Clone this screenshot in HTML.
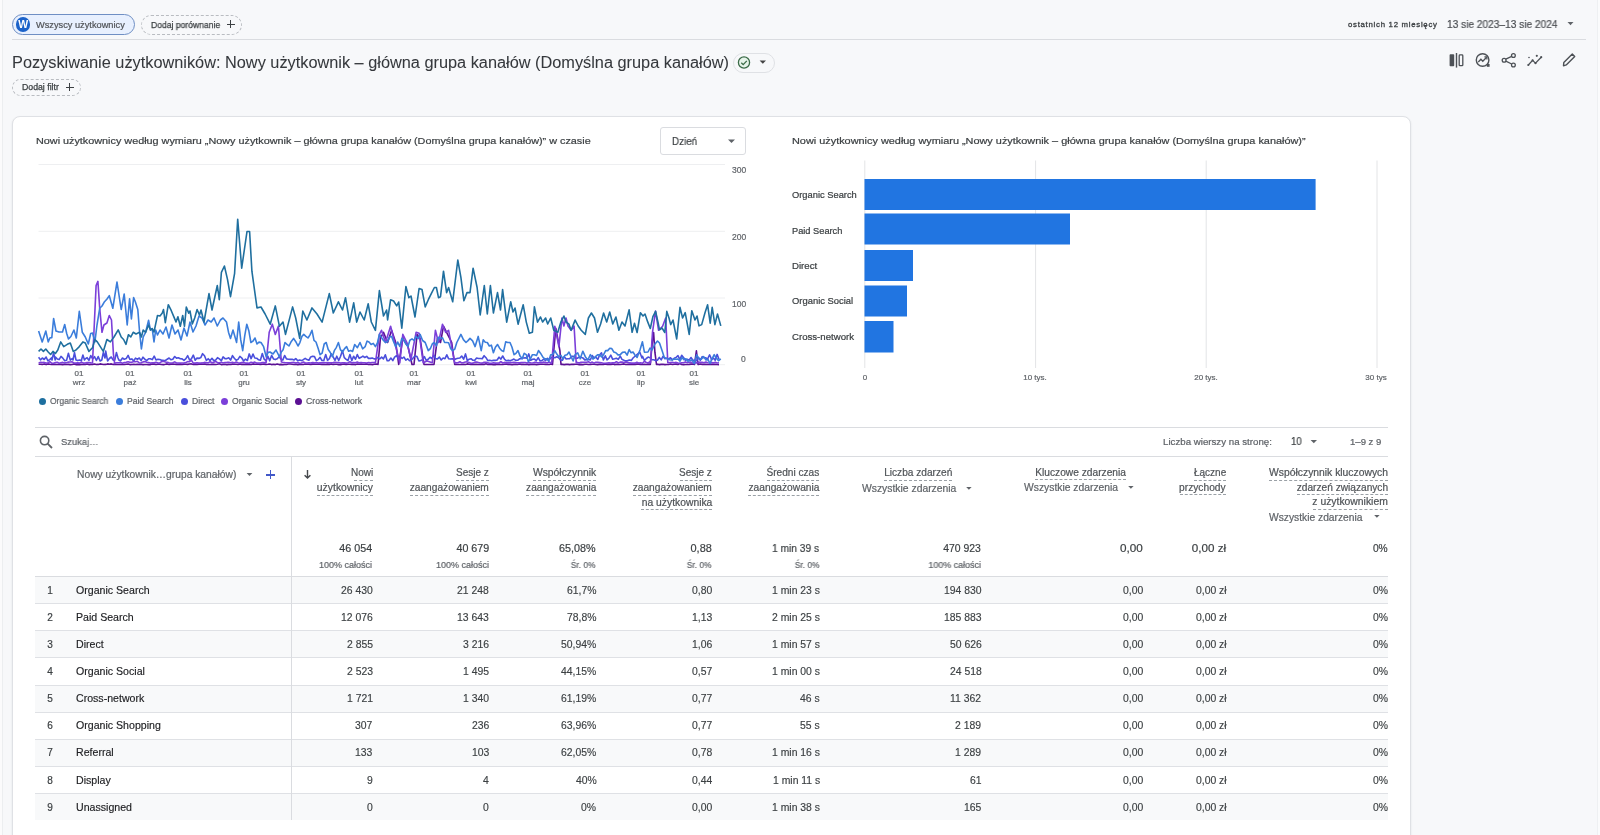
<!DOCTYPE html>
<html><head><meta charset="utf-8"><title>GA</title>
<style>
html,body{margin:0;padding:0;}
body{width:1600px;height:835px;overflow:hidden;position:relative;background:#f7f8fa;font-family:"Liberation Sans",sans-serif;}
.b{position:absolute;}
.t{position:absolute;white-space:nowrap;line-height:1;will-change:transform;}
.dot{position:absolute;width:7px;height:7px;border-radius:50%;}
.edge{position:absolute;left:1597px;top:0;width:1px;height:835px;background:#eef0f2}
.edge2{position:absolute;left:1598px;top:0;width:2px;height:835px;background:#fafbfc}
.edgel{position:absolute;left:2px;top:0;width:1px;height:835px;background:#eceef0}
.edgel0{position:absolute;left:0;top:0;width:2px;height:835px;background:#fbfbfc}
</style></head><body>
<div class="edge"></div><div class="edge2"></div><div class="edgel"></div><div class="edgel0"></div>
<div class="b" style="left:11.6px;top:14.3px;width:123.4px;height:20.4px;border:1.3px solid #6f8fc4;background:#e8f0fe;border-radius:11px;box-sizing:border-box;"></div>
<div class="b" style="left:15.6px;top:17.4px;width:14.4px;height:14.4px;background:#1b62c9;border-radius:50%;"></div>
<div class="t" style="left:15.6px;width:14.4px;top:19px;font-size:10.5px;line-height:10.5px;text-align:center;color:#fff;font-weight:700">W</div>
<div class="b" style="left:141px;top:14.5px;width:100.5px;height:20px;border:1px dashed #b9bcc1;border-radius:11px;box-sizing:border-box;"></div>
<div class="b" style="left:226.5px;top:23.6px;width:8.5px;height:1.1px;background:#3c4043"></div>
<div class="b" style="left:230.2px;top:19.8px;width:1.1px;height:8.5px;background:#3c4043"></div>
<div class="b" style="left:12px;top:38.8px;width:1574px;height:1px;background:#dadce0"></div>
<svg class="b" style="left:1566px;top:21px" width="9" height="6"><path d="M1.5,1 L7.5,1 L4.5,4.2Z" fill="#5f6368"/></svg>
<div class="b" style="left:732.5px;top:52.8px;width:42px;height:19.8px;border:1px solid #dfe1e5;border-radius:10px;box-sizing:border-box;"></div>
<svg class="b" style="left:736px;top:55px" width="16" height="16"><circle cx="8" cy="7.5" r="5.6" fill="#e6f4ea" stroke="#3b6b48" stroke-width="1.3"/><path d="M5.3,7.7 L7.2,9.6 L10.8,5.9" fill="none" stroke="#3b6b48" stroke-width="1.3"/></svg>
<svg class="b" style="left:758px;top:59px" width="10" height="6"><path d="M1.6,1.5 L8,1.5 L4.8,4.8Z" fill="#444"/></svg>
<div class="b" style="left:11.6px;top:78.5px;width:69.8px;height:17.2px;border:1px dashed #b9bcc1;border-radius:9px;box-sizing:border-box;"></div>
<div class="b" style="left:65.6px;top:86.5px;width:8.2px;height:1.1px;background:#3c4043"></div>
<div class="b" style="left:69.15px;top:82.9px;width:1.1px;height:8.2px;background:#3c4043"></div>
<svg class="b" style="left:1446px;top:50px" width="135" height="20" viewBox="1446 50 135 20">
<rect x="1449.6" y="54.3" width="4.6" height="12" rx="0.8" fill="#4d5156"/>
<rect x="1455.8" y="53" width="1.4" height="14.6" fill="#4d5156"/>
<rect x="1459.2" y="54.9" width="3.6" height="10.8" rx="0.8" fill="none" stroke="#4d5156" stroke-width="1.3"/>
<circle cx="1482.6" cy="60" r="6.3" fill="none" stroke="#4d5156" stroke-width="1.4"/>
<path d="M1478.3,62 L1480.9,59.2 L1482.8,61.2 L1486.6,57.2" fill="none" stroke="#4d5156" stroke-width="1.3"/>
<path d="M1484.4,56.9 L1486.9,56.9 L1486.9,59.4" fill="none" stroke="#4d5156" stroke-width="1.2"/>
<rect x="1486.8" y="64" width="2.8" height="2.8" fill="#4d5156"/>
<circle cx="1513.4" cy="55.5" r="1.9" fill="none" stroke="#4d5156" stroke-width="1.3"/>
<circle cx="1504.1" cy="60.2" r="1.9" fill="none" stroke="#4d5156" stroke-width="1.3"/>
<circle cx="1513.4" cy="65" r="1.9" fill="none" stroke="#4d5156" stroke-width="1.3"/>
<path d="M1505.8,59.2 L1511.7,56.4 M1505.8,61.2 L1511.7,64" stroke="#4d5156" stroke-width="1.3"/>
<path d="M1528.3,65 L1532.6,60.4 L1535.5,63.2 L1541.2,57.2" fill="none" stroke="#4d5156" stroke-width="1.3"/>
<circle cx="1528.3" cy="65" r="1.1" fill="#4d5156"/><circle cx="1532.6" cy="60.4" r="1.1" fill="#4d5156"/><circle cx="1535.5" cy="63.2" r="1.1" fill="#4d5156"/><circle cx="1541.2" cy="57.2" r="1.1" fill="#4d5156"/>
<circle cx="1529" cy="57.5" r="0.8" fill="#4d5156"/><circle cx="1536.8" cy="55.8" r="1.1" fill="#4d5156"/>
<path d="M1563.5,65.8 L1563.8,62.5 L1572.3,54 L1574.7,56.4 L1566.2,64.9 Z" fill="none" stroke="#4d5156" stroke-width="1.4" stroke-linejoin="round"/>
</svg>
<div class="b" style="left:12px;top:115.5px;width:1398.5px;height:760px;background:#fff;border:1px solid #dfe1e5;border-radius:8px;box-sizing:border-box;box-shadow:0 1px 2px rgba(60,64,67,0.12);"></div>
<div class="b" style="left:660.3px;top:127.3px;width:86.2px;height:28px;border:1px solid #dadce0;border-radius:3px;box-sizing:border-box;background:#fff"></div>
<svg class="b" style="left:726px;top:138px" width="11" height="7"><path d="M2,1.6 L9,1.6 L5.5,5Z" fill="#5f6368"/></svg>
<svg class="b" style="left:0;top:0" width="760" height="420" viewBox="0 0 760 420"><line x1="38.5" y1="164.5" x2="725" y2="164.5" stroke="#eeeff1" stroke-width="1"/>
<line x1="38.5" y1="231.3" x2="725" y2="231.3" stroke="#eeeff1" stroke-width="1"/>
<line x1="38.5" y1="298" x2="725" y2="298" stroke="#eeeff1" stroke-width="1"/>
<line x1="38.5" y1="364.7" x2="725" y2="364.7" stroke="#eeeff1" stroke-width="1"/>
<path d="M38.6,364.2 L40.5,364.3 L42.3,364.4 L44.2,363.9 L46.1,364.6 L47.9,363.9 L49.8,364.3 L51.6,364.5 L53.5,364.2 L55.4,364.4 L57.2,364.5 L59.1,364.5 L61.0,364.4 L62.8,364.6 L64.7,364.2 L66.6,364.5 L68.4,364.4 L70.3,364.6 L72.2,364.5 L74.0,363.9 L75.9,364.6 L77.7,364.4 L79.6,364.6 L81.5,364.4 L83.3,364.5 L85.2,364.5 L87.1,364.0 L88.9,364.6 L90.8,364.5 L92.7,364.4 L94.5,364.0 L96.4,364.5 L98.2,364.4 L100.1,363.9 L102.0,364.2 L103.8,364.5 L105.7,364.4 L107.6,363.9 L109.4,364.3 L111.3,363.9 L113.2,364.4 L115.0,364.4 L116.9,364.5 L118.8,364.5 L120.6,364.5 L122.5,364.5 L124.3,364.5 L126.2,364.2 L128.1,364.1 L129.9,364.6 L131.8,364.5 L133.7,364.4 L135.5,364.5 L137.4,364.3 L139.3,364.5 L141.1,364.3 L143.0,364.6 L144.8,364.5 L146.7,364.5 L148.6,364.6 L150.4,364.6 L152.3,364.0 L154.2,364.1 L156.0,364.5 L157.9,364.3 L159.8,364.3 L161.6,364.5 L163.5,364.6 L165.4,364.3 L167.2,363.9 L169.1,364.4 L170.9,364.1 L172.8,364.0 L174.7,364.3 L176.5,364.4 L178.4,364.4 L180.3,364.1 L182.1,364.5 L184.0,364.2 L185.9,364.3 L187.7,364.4 L189.6,364.0 L191.4,363.9 L193.3,364.4 L195.2,364.4 L197.0,364.5 L198.9,364.1 L200.8,364.2 L202.6,364.2 L204.5,364.0 L206.4,364.4 L208.2,364.5 L210.1,364.5 L212.0,364.4 L213.8,364.4 L215.7,364.5 L217.5,364.2 L219.4,363.7 L221.3,364.6 L223.1,364.5 L225.0,364.2 L226.9,364.6 L228.7,364.4 L230.6,364.5 L232.5,364.1 L234.3,364.3 L236.2,364.3 L238.0,364.5 L239.9,364.0 L241.8,364.4 L243.6,364.3 L245.5,364.5 L247.4,364.5 L249.2,364.5 L251.1,364.5 L253.0,363.9 L254.8,364.2 L256.7,364.2 L258.6,364.3 L260.4,364.4 L262.3,364.3 L264.1,364.1 L266.0,364.5 L267.9,364.3 L269.7,364.0 L271.6,364.6 L273.5,364.3 L275.3,364.6 L277.2,364.1 L279.1,364.6 L280.9,364.4 L282.8,364.6 L284.6,364.5 L286.5,364.5 L288.4,364.0 L290.2,364.0 L292.1,364.2 L294.0,364.5 L295.8,364.3 L297.7,364.6 L299.6,364.4 L301.4,364.5 L303.3,364.5 L305.2,364.0 L307.0,364.3 L308.9,364.2 L310.7,364.5 L312.6,364.1 L314.5,364.3 L316.3,364.2 L318.2,364.3 L320.1,364.2 L321.9,364.5 L323.8,364.3 L325.7,364.5 L327.5,364.1 L329.4,364.4 L331.2,363.9 L333.1,364.4 L335.0,364.3 L336.8,364.2 L338.7,364.6 L340.6,364.6 L342.4,364.2 L344.3,364.1 L346.2,364.5 L348.0,364.3 L349.9,364.2 L351.8,364.4 L353.6,364.2 L355.5,364.6 L357.3,364.0 L359.2,364.3 L361.1,364.1 L362.9,364.3 L364.8,364.3 L366.7,363.9 L368.5,364.5 L370.4,364.2 L372.3,364.6 L374.1,364.3 L376.0,364.1 L377.8,364.3 L378.0,364.5 L380.4,338.4 L383.5,332.3 L387.6,342.5 L391.6,330.3 L395.7,342.5 L398.7,364.5 L402.8,338.4 L408.0,346.6 L412.0,364.5 L414.0,364.5 L417.1,334.4 L420.1,338.4 L424.0,364.5 L434.0,364.5 L437.4,338.4 L440.5,342.5 L443.5,326.2 L447.6,334.4 L451.7,342.5 L454.7,364.5 L456.1,364.5 L458.0,364.5 L459.9,364.5 L461.7,364.5 L463.6,364.3 L465.5,364.5 L467.3,363.9 L469.2,364.2 L471.0,364.5 L472.9,364.3 L474.8,364.4 L476.6,364.2 L478.5,364.5 L480.4,364.5 L482.2,364.3 L484.1,364.4 L486.0,363.8 L487.8,364.4 L489.7,364.4 L491.6,364.4 L493.4,364.6 L495.3,364.6 L497.1,364.3 L499.0,364.4 L500.9,364.5 L502.7,364.5 L504.6,364.2 L506.5,364.1 L508.3,364.4 L510.2,364.4 L512.1,364.6 L513.9,364.4 L515.8,364.3 L517.6,364.5 L519.5,364.0 L521.4,364.4 L523.2,364.4 L525.1,364.5 L527.0,364.3 L528.8,364.6 L530.7,364.4 L532.6,364.5 L534.4,364.3 L536.3,364.6 L538.2,364.5 L540.0,364.3 L541.9,364.3 L543.7,364.3 L545.6,364.4 L547.5,364.5 L549.3,364.5 L551.2,364.0 L552.5,364.5 L555.8,328.2 L558.0,340.0 L559.9,350.6 L561.0,364.5 L562.4,364.4 L564.2,364.6 L566.1,364.4 L568.0,364.4 L569.8,364.6 L571.7,364.3 L573.6,364.4 L575.4,364.3 L577.3,364.3 L579.2,364.6 L581.0,364.4 L582.9,364.6 L584.8,364.3 L586.6,364.3 L588.5,364.5 L590.3,364.5 L592.2,364.2 L594.1,364.3 L595.9,364.5 L597.8,364.6 L599.7,364.2 L601.5,364.4 L603.4,364.5 L605.3,364.0 L607.1,364.4 L609.0,364.3 L610.8,364.4 L612.7,364.1 L614.6,364.6 L616.4,364.2 L618.3,364.4 L620.2,364.5 L622.0,364.2 L623.9,363.9 L625.8,364.5 L627.6,364.4 L629.5,364.4 L631.4,364.5 L633.2,364.4 L635.1,364.4 L636.9,364.1 L638.8,364.1 L640.7,364.4 L642.5,364.5 L644.4,364.3 L646.3,364.5 L648.1,364.1 L650.0,364.5 L650.3,364.5 L652.5,340.0 L653.6,332.5 L654.9,352.2 L656.5,364.5 L657.4,364.3 L659.3,364.6 L661.2,364.4 L663.0,364.3 L664.9,364.6 L666.8,364.5 L668.6,364.5 L670.5,364.0 L672.4,364.5 L674.2,364.2 L676.1,364.1 L678.0,364.5 L679.8,363.5 L681.7,364.5 L683.5,364.6 L685.4,364.5 L687.3,364.5 L689.1,364.4 L691.0,364.1 L692.9,364.0 L694.5,364.5 L696.4,350.9 L698.0,364.5 L698.5,364.4 L700.3,364.0 L702.2,364.4 L704.0,364.3 L705.9,364.4 L707.8,364.5 L709.6,364.5 L711.5,364.5 L713.4,364.4 L715.2,364.4 L717.1,364.5 L719.0,364.6" fill="none" stroke="#5b1093" stroke-width="1.6" stroke-linejoin="round"/>
<path d="M38.6,357.3 L40.5,359.9 L42.3,358.0 L44.2,359.5 L46.1,357.0 L47.9,360.8 L49.8,359.6 L51.6,357.7 L52.0,360.0 L53.6,352.6 L55.2,360.0 L55.4,357.1 L57.2,358.9 L59.1,359.6 L61.0,356.4 L62.8,358.1 L64.7,360.7 L66.6,360.2 L68.4,353.3 L70.3,360.1 L72.2,358.6 L73.0,360.0 L74.5,352.6 L76.0,360.0 L77.7,360.6 L79.6,360.0 L81.5,360.8 L81.5,360.0 L82.9,355.0 L84.5,360.0 L85.2,358.9 L87.1,357.7 L88.9,360.4 L90.8,355.6 L92.7,358.9 L94.5,356.7 L96.4,360.5 L98.2,356.6 L100.1,361.0 L101.8,360.0 L103.3,352.6 L105.0,358.0 L105.7,351.1 L107.6,360.9 L109.4,358.5 L111.3,357.0 L113.2,360.1 L114.8,360.0 L116.4,352.6 L118.0,358.0 L118.8,359.9 L120.6,360.7 L122.5,358.0 L124.3,359.3 L126.2,358.6 L128.1,355.4 L129.9,359.5 L131.8,358.9 L133.7,361.0 L135.5,358.1 L137.4,359.2 L139.3,358.0 L141.1,360.6 L143.0,357.2 L144.8,359.1 L146.7,360.6 L148.6,358.7 L150.4,358.7 L152.3,359.6 L154.2,356.1 L156.0,359.9 L157.9,359.3 L159.8,359.5 L161.6,360.2 L163.5,360.4 L165.4,360.5 L167.2,359.2 L169.1,358.0 L170.9,359.8 L172.8,359.2 L174.7,356.5 L176.5,358.1 L178.4,357.8 L180.3,358.7 L182.1,358.9 L184.0,360.4 L185.9,358.7 L187.7,355.7 L189.6,360.0 L191.4,358.9 L193.3,355.1 L195.2,360.3 L197.0,358.1 L198.9,358.4 L200.8,357.6 L202.6,353.7 L204.5,355.7 L206.4,360.5 L208.2,358.7 L210.1,360.6 L212.0,358.3 L213.8,360.7 L215.7,359.9 L217.5,357.7 L219.4,358.9 L221.3,360.8 L223.1,356.9 L225.0,358.7 L226.9,358.6 L228.7,357.7 L230.6,360.1 L232.5,355.6 L234.3,358.3 L236.2,360.3 L238.0,359.4 L239.9,356.4 L241.8,358.0 L243.6,361.0 L245.5,359.1 L247.4,360.5 L249.2,353.9 L251.1,358.6 L253.0,354.1 L254.8,358.0 L256.7,358.2 L258.6,359.8 L260.4,360.3 L262.3,353.5 L264.1,359.1 L266.0,360.7 L267.9,356.3 L269.7,360.8 L271.6,355.4 L273.5,358.9 L275.3,359.6 L277.2,358.8 L279.1,356.7 L280.9,359.0 L282.8,360.1 L284.6,355.5 L286.5,358.9 L288.4,359.2 L290.2,359.4 L292.1,359.2 L294.0,360.0 L295.8,358.6 L297.7,360.8 L299.6,360.0 L301.4,360.6 L303.3,359.7 L305.2,358.4 L307.0,359.6 L308.9,360.3 L310.7,356.9 L312.6,356.2 L314.5,356.6 L316.3,360.5 L318.2,359.6 L320.1,357.3 L321.9,360.5 L323.8,360.4 L325.7,354.5 L327.5,360.3 L329.4,358.7 L331.2,353.7 L333.1,356.8 L335.0,360.4 L336.8,356.2 L338.7,360.5 L340.6,356.2 L342.4,350.6 L344.3,357.6 L346.2,359.3 L348.0,360.5 L349.9,354.6 L351.8,360.6 L353.6,356.3 L355.5,359.2 L357.3,354.6 L359.2,358.3 L361.1,357.3 L362.9,356.1 L364.8,357.5 L366.7,356.4 L368.5,358.4 L370.4,358.4 L372.3,358.0 L374.1,358.9 L376.0,358.9 L377.8,357.4 L379.7,359.0 L381.6,357.2 L383.4,358.9 L385.3,354.8 L387.2,360.7 L389.0,360.6 L390.9,358.1 L392.8,360.6 L394.6,357.1 L396.5,355.7 L398.4,358.9 L400.2,356.7 L402.1,358.5 L403.9,357.0 L405.8,360.2 L407.7,358.8 L409.5,360.7 L411.4,359.9 L413.3,357.7 L415.1,355.9 L417.0,356.6 L418.9,361.0 L420.7,360.5 L422.6,359.6 L424.4,356.7 L426.3,360.5 L428.2,359.3 L430.0,357.3 L431.9,358.5 L433.8,355.1 L435.6,358.7 L437.5,358.9 L439.4,357.1 L441.2,360.0 L443.1,358.0 L445.0,358.7 L446.8,354.8 L448.7,358.8 L450.5,359.0 L452.4,358.7 L454.3,359.7 L456.1,358.7 L458.0,358.3 L459.9,358.0 L461.7,356.0 L463.6,359.2 L465.5,353.9 L467.3,360.7 L469.2,359.2 L471.0,358.7 L472.9,360.3 L474.8,360.3 L476.6,358.0 L478.5,358.5 L480.4,358.5 L482.2,358.7 L484.1,355.7 L486.0,357.7 L487.8,360.6 L489.7,360.3 L491.6,360.7 L493.4,360.4 L495.3,360.4 L497.1,360.0 L499.0,357.2 L500.9,359.1 L502.7,356.0 L504.6,359.4 L506.5,360.8 L508.3,360.4 L510.2,360.8 L512.1,359.9 L513.9,359.1 L515.8,360.4 L517.6,360.3 L519.5,358.8 L521.4,358.6 L523.2,358.0 L525.1,357.8 L527.0,358.3 L528.8,353.9 L530.7,360.2 L532.6,359.2 L534.4,359.1 L536.3,360.7 L538.2,357.6 L540.0,360.8 L541.9,360.6 L543.7,359.2 L545.6,360.6 L547.5,358.3 L549.3,359.8 L551.2,357.6 L553.1,357.2 L554.9,357.7 L556.8,356.8 L558.7,357.7 L560.5,359.9 L562.4,360.3 L564.2,356.6 L566.1,359.0 L568.0,358.7 L569.8,358.6 L571.7,356.4 L573.6,356.3 L575.4,358.2 L577.3,358.3 L579.2,357.1 L581.0,357.3 L582.9,357.9 L584.8,359.9 L586.6,359.8 L588.5,359.3 L590.3,360.0 L592.2,355.5 L594.1,358.0 L595.9,357.3 L597.8,359.5 L599.7,354.7 L601.5,352.8 L603.4,360.0 L605.3,355.8 L607.1,359.8 L609.0,358.2 L610.8,355.1 L612.7,359.3 L614.6,358.8 L616.4,358.2 L618.3,359.4 L620.2,356.1 L622.0,359.4 L623.9,360.3 L625.8,360.9 L627.6,360.6 L629.5,360.0 L631.4,360.4 L633.0,358.0 L639.8,352.2 L642.0,358.0 L642.5,356.2 L644.4,360.5 L646.3,358.5 L648.1,357.1 L650.0,357.7 L651.9,359.8 L653.7,359.8 L655.6,360.6 L657.4,360.3 L659.3,357.4 L661.2,359.8 L663.0,356.3 L664.9,358.7 L666.8,358.2 L668.6,358.9 L670.5,357.8 L672.4,359.9 L674.2,358.3 L676.1,357.4 L678.0,355.7 L679.8,359.5 L681.7,355.3 L683.5,357.4 L685.4,360.3 L687.3,359.2 L689.1,360.1 L691.0,357.5 L692.9,360.2 L694.7,360.4 L696.6,360.6 L698.5,357.5 L700.3,360.3 L702.2,356.6 L704.0,357.8 L705.9,357.8 L707.8,359.7 L708.0,358.0 L709.6,354.9 L711.0,358.0 L711.5,360.0 L713.4,358.0 L715.2,360.3 L717.1,354.4 L719.0,359.2" fill="none" stroke="#4a4fdc" stroke-width="1.6" stroke-linejoin="round"/>
<path d="M38.6,363.1 L40.5,362.2 L42.3,362.5 L44.2,362.4 L46.1,363.0 L47.9,363.0 L49.8,361.7 L51.6,363.1 L53.5,363.2 L55.4,362.6 L57.2,362.3 L59.1,363.2 L61.0,362.7 L62.8,362.4 L64.7,362.9 L66.6,362.8 L68.4,362.1 L70.3,362.0 L72.2,361.9 L74.0,363.0 L75.9,363.1 L77.7,362.9 L79.6,363.1 L81.5,362.1 L83.3,363.1 L85.2,363.0 L87.1,362.6 L88.9,362.5 L90.8,362.9 L92.5,363.0 L96.1,285.6 L97.9,281.4 L99.7,308.3 L102.0,332.3 L103.9,325.0 L106.9,323.0 L109.3,315.5 L111.5,320.0 L113.4,353.8 L114.6,363.4 L115.0,363.0 L116.9,362.7 L118.8,362.7 L120.6,362.4 L122.5,363.2 L124.3,362.6 L126.2,362.3 L128.1,361.7 L129.9,362.3 L131.8,362.4 L133.7,361.5 L135.5,361.7 L137.4,361.3 L139.3,363.0 L141.1,362.8 L143.0,361.9 L144.8,361.6 L146.7,362.3 L148.6,362.6 L150.4,363.1 L152.3,362.7 L154.2,362.7 L156.0,362.3 L157.9,363.1 L159.8,362.9 L161.6,361.7 L163.5,361.3 L165.4,362.0 L167.2,362.4 L169.1,362.8 L170.9,363.0 L172.8,362.8 L174.7,361.9 L176.5,363.0 L178.4,363.0 L180.3,363.0 L182.1,363.0 L184.0,363.1 L185.9,362.5 L187.7,361.6 L189.6,361.7 L191.4,360.3 L193.3,363.1 L195.2,363.1 L197.0,362.9 L198.9,363.0 L200.8,363.1 L202.6,362.9 L204.5,362.4 L206.4,362.8 L208.2,362.9 L210.1,361.6 L212.0,362.8 L213.8,362.4 L215.7,361.3 L217.5,362.6 L219.4,362.7 L221.3,362.3 L223.1,363.0 L225.0,362.5 L226.9,362.4 L228.7,362.2 L230.6,362.8 L232.5,362.3 L234.3,362.9 L236.2,362.0 L238.0,362.7 L239.9,363.1 L241.8,362.5 L243.6,362.2 L245.5,363.1 L247.4,363.1 L249.2,363.2 L251.1,362.3 L253.0,362.7 L254.8,362.1 L256.7,363.1 L258.6,363.0 L260.4,363.0 L262.3,362.6 L264.1,362.6 L266.0,362.9 L266.2,362.0 L269.2,332.3 L272.3,324.2 L275.3,334.4 L278.4,326.2 L281.4,362.0 L282.8,362.3 L284.6,362.6 L286.5,362.8 L288.4,362.7 L290.2,362.7 L292.1,362.5 L294.0,362.4 L295.8,363.0 L297.7,362.5 L299.6,363.2 L301.4,363.0 L303.3,362.0 L305.2,362.7 L307.0,363.0 L308.9,362.7 L310.7,363.0 L312.6,362.6 L314.5,362.9 L316.3,362.4 L318.2,363.1 L320.1,362.8 L321.9,362.9 L323.8,362.6 L325.7,362.8 L327.5,362.5 L329.4,362.9 L331.2,362.8 L333.1,362.6 L335.0,362.2 L336.8,362.5 L338.7,362.6 L340.6,363.1 L342.4,362.8 L344.3,362.7 L346.2,363.1 L348.0,362.7 L349.9,361.8 L351.8,362.9 L353.6,362.6 L355.5,362.8 L357.3,362.1 L359.2,362.9 L361.1,362.5 L362.9,362.7 L364.8,362.7 L366.7,363.0 L368.5,362.6 L370.4,362.7 L372.3,362.5 L374.1,362.5 L375.4,362.8 L379.4,334.4 L381.5,330.3 L385.5,342.5 L390.6,326.2 L394.7,342.5 L399.8,362.8 L402.8,334.4 L406.9,342.5 L411.0,358.8 L416.1,332.3 L419.1,333.3 L423.2,362.8 L427.0,361.0 L432.3,362.8 L435.4,330.3 L438.5,342.5 L442.5,324.2 L445.6,332.3 L448.6,330.3 L454.7,362.8 L456.1,362.9 L458.0,362.8 L459.9,361.8 L461.7,362.9 L463.6,362.5 L465.5,362.0 L467.3,361.9 L469.2,362.5 L471.0,363.2 L472.9,363.1 L474.8,362.1 L476.6,362.0 L478.5,362.6 L480.4,363.0 L482.2,363.1 L484.1,362.2 L486.0,362.4 L487.8,362.8 L489.7,363.2 L491.6,363.2 L493.4,362.8 L495.3,363.1 L497.1,363.0 L499.0,363.0 L500.9,361.6 L502.7,363.0 L504.6,362.4 L506.5,362.7 L508.3,362.9 L510.2,362.6 L512.1,362.5 L513.9,362.3 L515.8,362.6 L517.6,362.8 L519.5,362.9 L521.4,362.5 L523.2,362.5 L525.1,362.5 L527.0,363.0 L528.8,362.4 L530.7,362.8 L532.6,363.0 L534.4,362.4 L536.3,362.4 L538.2,363.0 L540.0,362.4 L541.9,362.8 L543.7,362.1 L545.6,362.5 L547.5,362.9 L549.3,362.0 L551.2,363.2 L551.7,362.8 L554.8,326.2 L558.9,346.6 L561.9,318.0 L563.9,326.0 L566.0,318.0 L568.0,326.0 L571.1,330.3 L574.1,326.2 L576.2,362.8 L577.3,362.4 L579.2,363.1 L581.0,362.3 L582.9,362.2 L584.8,362.2 L586.6,362.3 L588.5,361.8 L590.3,362.9 L592.2,362.1 L594.1,363.1 L595.9,362.2 L597.8,362.4 L599.7,362.6 L601.5,362.8 L603.4,363.2 L605.3,363.2 L607.1,363.0 L609.0,362.9 L610.8,363.0 L612.7,362.8 L614.6,362.9 L616.4,361.7 L618.3,363.0 L620.2,362.1 L622.0,362.1 L623.9,362.5 L625.8,361.9 L627.6,362.2 L629.5,362.9 L631.4,363.1 L633.2,363.0 L635.1,363.1 L636.9,362.2 L638.8,363.1 L640.7,362.8 L642.5,363.2 L644.4,361.3 L646.3,362.5 L648.1,362.9 L650.0,361.8 L650.5,362.8 L652.5,332.3 L655.5,311.0 L658.6,330.3 L662.6,326.2 L665.7,318.0 L667.8,362.8 L668.6,362.7 L670.5,362.5 L672.4,362.4 L674.2,362.7 L676.1,362.4 L678.0,363.1 L679.8,363.2 L681.7,362.7 L683.5,362.7 L685.4,361.9 L687.3,362.8 L689.1,362.3 L691.0,362.1 L692.9,363.1 L694.7,362.8 L696.6,362.9 L698.5,362.1 L700.3,362.4 L702.2,362.4 L704.0,362.7 L705.9,362.0 L707.8,362.8 L709.6,363.0 L711.5,362.6 L713.4,362.9 L715.2,362.2 L717.1,363.0 L719.0,362.7" fill="none" stroke="#7b3fd9" stroke-width="1.6" stroke-linejoin="round"/>
<path d="M38.6,331.0 L42.2,341.9 L45.8,331.0 L48.2,341.9 L50.0,337.7 L51.8,337.7 L53.6,318.5 L56.0,331.0 L59.0,332.0 L62.5,332.0 L64.7,324.5 L66.7,333.5 L68.5,338.9 L70.9,336.5 L73.9,330.0 L76.3,338.0 L79.3,311.3 L82.3,332.3 L85.3,337.0 L88.3,344.0 L90.7,333.5 L92.5,333.0 L94.9,341.9 L97.0,325.0 L99.7,308.3 L102.0,306.0 L104.5,301.7 L107.0,299.0 L109.3,295.7 L112.8,308.3 L117.0,282.0 L121.2,309.5 L124.2,294.0 L127.2,325.0 L129.6,298.7 L131.4,319.0 L133.6,297.5 L135.4,302.0 L137.8,309.5 L139.6,332.3 L141.4,349.0 L143.2,337.0 L145.6,332.3 L148.6,320.3 L150.4,330.0 L152.2,328.7 L154.0,341.9 L155.7,330.0 L157.5,335.0 L160.0,330.0 L163.0,334.0 L166.0,327.0 L169.0,338.0 L172.0,325.0 L175.0,334.0 L178.0,330.0 L181.0,340.0 L184.0,328.0 L187.0,336.0 L190.0,322.0 L193.0,332.0 L196.0,326.0 L199.0,316.0 L202.0,318.0 L205.0,325.0 L208.0,320.0 L211.2,322.0 L214.0,318.0 L217.3,326.0 L220.4,320.0 L223.0,318.0 L226.5,322.0 L228.5,332.2 L230.5,338.4 L233.0,330.0 L236.6,342.5 L238.7,322.0 L240.7,339.7 L242.7,350.6 L244.8,335.4 L246.8,324.2 L248.9,331.1 L250.9,342.5 L252.9,341.2 L255.0,338.0 L257.0,344.0 L259.0,342.1 L261.0,342.5 L263.6,346.7 L266.2,356.7 L268.1,352.4 L270.0,352.0 L273.0,354.0 L276.0,350.0 L279.4,356.7 L281.3,351.9 L283.1,349.7 L285.0,342.5 L287.0,344.3 L289.0,346.0 L291.3,341.4 L293.6,338.4 L295.8,341.7 L298.0,346.0 L299.9,342.6 L301.9,336.4 L303.8,334.4 L305.9,336.3 L308.0,338.0 L310.0,334.9 L312.0,330.3 L314.0,340.4 L316.0,342.0 L318.1,348.3 L320.1,354.7 L322.1,353.2 L324.2,344.0 L326.2,342.5 L328.2,349.5 L330.3,352.5 L332.3,356.7 L334.3,350.7 L336.4,347.3 L338.4,342.5 L340.4,349.6 L342.5,352.0 L344.6,348.6 L346.6,346.6 L348.6,351.3 L350.6,350.6 L352.6,351.5 L354.7,344.5 L357.4,347.7 L360.0,342.5 L362.6,348.8 L365.2,346.6 L367.1,341.1 L369.0,342.0 L371.1,344.5 L373.3,343.4 L375.4,346.6 L377.4,343.0 L379.4,334.4 L381.4,337.4 L383.5,340.5 L385.5,342.5 L387.5,341.7 L389.6,337.0 L391.6,336.4 L393.6,341.8 L395.7,346.6 L397.7,342.1 L399.8,346.5 L401.8,338.4 L403.8,340.1 L405.9,344.0 L407.9,346.6 L409.9,340.2 L412.0,338.9 L414.0,340.5 L416.0,336.4 L418.1,338.6 L420.1,334.4 L422.6,340.5 L425.2,342.5 L428.3,350.6 L430.3,348.7 L432.4,343.7 L434.4,342.5 L436.4,345.9 L438.5,337.2 L440.5,338.4 L442.5,337.7 L444.6,342.5 L446.6,342.5 L448.6,342.8 L450.7,348.7 L452.7,350.6 L454.8,349.1 L456.8,342.5 L458.9,338.4 L460.9,334.4 L463.4,339.6 L466.0,342.5 L468.0,340.6 L470.0,338.4 L472.6,340.9 L475.1,346.6 L478.2,336.4 L481.2,350.6 L483.2,339.9 L485.3,342.2 L487.3,342.5 L489.3,346.0 L491.4,345.2 L493.4,352.7 L495.4,347.3 L497.5,344.5 L499.6,348.2 L501.6,350.6 L503.6,351.4 L505.7,341.8 L507.7,342.5 L510.0,342.5 L512.0,347.3 L514.1,354.7 L516.0,353.3 L518.0,350.6 L520.1,356.1 L522.2,358.8 L524.2,353.3 L526.3,354.7 L528.3,361.6 L530.4,358.8 L532.4,354.7 L534.4,354.7 L536.5,355.5 L538.5,350.6 L540.5,353.2 L542.6,356.7 L544.6,358.9 L546.6,358.8 L548.7,361.1 L550.7,354.7 L552.8,354.6 L554.8,350.6 L556.8,354.1 L558.9,356.7 L560.9,355.3 L562.9,358.8 L565.0,355.2 L567.0,354.7 L569.0,352.1 L571.1,356.7 L573.1,361.0 L575.1,354.7 L577.7,352.9 L580.2,358.8 L582.8,351.2 L585.3,356.7 L587.8,360.0 L590.4,354.7 L593.0,359.1 L595.5,356.7 L597.5,354.9 L599.6,354.7 L601.6,356.9 L603.6,354.7 L605.7,350.6 L607.7,350.6 L609.8,348.2 L611.8,348.6 L613.8,352.0 L615.9,352.7 L618.0,354.9 L620.0,354.9 L622.5,352.4 L625.0,352.0 L627.1,355.1 L629.2,349.6 L631.1,352.8 L633.0,352.0 L635.0,355.2 L637.1,357.5 L640.0,350.0 L642.4,341.7 L644.4,352.2 L648.0,352.0 L650.0,348.0 L652.0,350.0 L655.0,344.0 L657.5,341.0 L659.5,343.0 L662.2,350.9 L664.3,357.5 L667.4,358.8 L669.7,359.8 L672.0,360.0 L674.0,358.9 L676.0,359.2 L678.0,359.0 L680.0,361.1 L682.0,357.5 L683.9,359.6 L685.9,358.8 L687.9,361.3 L690.0,360.6 L692.0,360.0 L694.3,363.5 L696.7,354.8 L699.0,358.8 L701.3,359.1 L703.7,356.6 L706.0,360.0 L708.0,359.5 L710.0,363.5 L712.0,358.8 L714.2,354.7 L716.4,358.1 L718.6,360.6 L720.8,358.8" fill="none" stroke="#3b7ddb" stroke-width="1.6" stroke-linejoin="round"/>
<path d="M38.6,351.4 L41.0,349.0 L43.4,351.4 L45.8,349.0 L48.2,352.0 L50.6,354.5 L53.0,351.4 L55.4,353.5 L57.8,350.0 L60.7,341.9 L63.7,346.6 L67.3,344.3 L70.3,343.0 L73.3,351.4 L75.7,350.2 L79.3,346.6 L82.9,341.9 L85.3,343.0 L88.9,351.4 L92.5,347.8 L94.9,339.5 L97.3,341.9 L100.3,346.6 L103.3,351.4 L106.9,339.5 L110.4,341.9 L114.0,337.0 L118.2,329.9 L121.2,337.0 L123.6,339.5 L126.0,344.3 L128.4,334.7 L130.8,337.0 L133.2,332.3 L136.0,334.0 L139.6,332.3 L141.4,337.0 L143.2,330.0 L145.6,332.3 L148.6,325.0 L150.5,330.0 L152.2,328.7 L154.0,332.0 L155.7,323.9 L157.5,315.5 L160.0,316.0 L162.3,313.1 L163.5,309.5 L165.3,322.7 L168.3,304.7 L171.3,310.7 L174.3,317.9 L176.0,322.0 L177.9,316.7 L180.3,326.3 L182.7,315.5 L184.5,326.3 L186.3,307.1 L188.7,313.1 L190.0,311.0 L192.3,323.9 L194.7,318.0 L197.1,309.5 L199.5,315.0 L201.0,310.0 L204.0,322.0 L209.0,293.6 L212.0,310.0 L217.3,285.5 L219.3,299.7 L221.4,272.3 L224.4,266.0 L227.5,279.4 L230.5,296.7 L234.6,273.3 L237.7,219.3 L241.7,268.2 L247.0,231.5 L249.6,231.5 L251.9,271.2 L257.0,307.9 L261.0,307.0 L265.1,314.0 L270.2,324.2 L275.3,305.9 L279.4,326.2 L283.0,322.0 L285.5,334.4 L292.6,306.9 L295.7,318.0 L299.7,338.4 L302.8,311.0 L306.9,320.0 L312.0,307.9 L317.0,314.0 L322.1,322.1 L329.3,293.6 L333.3,313.0 L338.4,301.8 L342.5,310.0 L345.5,297.7 L349.6,322.1 L353.7,302.8 L356.7,322.1 L360.0,312.0 L364.2,320.0 L368.2,303.8 L371.3,322.0 L375.4,330.3 L379.4,290.6 L383.5,316.0 L386.6,310.0 L387.6,320.0 L390.6,299.7 L393.6,301.0 L396.7,305.9 L398.7,302.0 L401.8,328.2 L405.9,286.5 L408.9,297.7 L411.0,296.0 L415.0,317.0 L419.1,288.5 L422.0,289.5 L425.2,306.9 L428.3,299.7 L431.3,293.6 L434.4,287.5 L436.4,287.5 L438.5,297.7 L440.5,296.7 L443.5,271.2 L446.6,292.6 L448.6,287.5 L452.7,301.8 L457.8,260.0 L460.9,277.4 L463.9,300.8 L467.0,292.6 L470.0,292.6 L473.1,268.2 L477.1,287.5 L480.2,315.0 L484.3,285.5 L487.3,314.0 L490.4,285.5 L493.4,313.0 L497.5,292.6 L500.5,310.0 L502.6,289.6 L506.7,322.1 L510.7,301.8 L513.0,312.0 L515.0,308.0 L518.1,324.2 L520.2,316.0 L523.2,304.8 L526.3,322.1 L529.3,333.3 L532.4,332.3 L534.4,306.9 L537.5,322.1 L540.5,317.0 L542.6,322.0 L545.6,318.0 L547.7,324.0 L550.7,318.0 L553.8,330.3 L557.8,332.3 L560.9,322.1 L563.9,316.0 L566.0,322.0 L569.0,324.2 L571.1,330.3 L575.1,320.1 L578.2,326.0 L581.2,330.3 L585.3,334.4 L588.4,318.0 L591.4,313.0 L594.5,318.0 L597.5,332.3 L600.6,324.0 L603.6,313.0 L606.7,322.0 L609.7,312.0 L612.8,324.0 L615.9,317.0 L618.9,330.3 L622.0,322.0 L625.0,326.0 L629.1,309.9 L632.1,332.3 L634.5,323.2 L637.1,332.5 L640.4,312.7 L643.0,316.0 L645.0,314.0 L647.7,321.9 L650.3,328.5 L652.9,316.7 L655.6,311.4 L658.2,323.2 L659.5,329.8 L662.0,328.0 L664.8,332.5 L666.8,311.4 L669.0,318.0 L670.7,324.6 L673.0,320.0 L676.7,339.0 L680.0,307.4 L682.6,318.0 L685.2,312.7 L689.2,334.4 L691.8,310.7 L695.0,320.0 L697.0,316.0 L699.0,325.9 L701.7,324.6 L705.0,312.7 L707.6,304.8 L710.2,323.2 L712.2,307.4 L714.9,324.6 L717.5,314.0 L720.8,325.9" fill="none" stroke="#1f6f9f" stroke-width="1.6" stroke-linejoin="round"/></svg>
<svg class="b" style="left:0;top:0" width="1400" height="400"><line x1="864.8" y1="160.5" x2="864.8" y2="368" stroke="#e3e4e6" stroke-width="1"/><line x1="1035.6" y1="160.5" x2="1035.6" y2="368" stroke="#e3e4e6" stroke-width="1"/><line x1="1206.2" y1="160.5" x2="1206.2" y2="368" stroke="#e3e4e6" stroke-width="1"/><line x1="1377" y1="160.5" x2="1377" y2="368" stroke="#e3e4e6" stroke-width="1"/><rect x="864.5" y="179" width="451.0999999999999" height="31" fill="#2175e1"/><rect x="864.5" y="213.5" width="205.5" height="31.0" fill="#2175e1"/><rect x="864.5" y="250" width="48.5" height="31" fill="#2175e1"/><rect x="864.5" y="285.5" width="42.5" height="31.0" fill="#2175e1"/><rect x="864.5" y="321" width="29.0" height="31.5" fill="#2175e1"/></svg>
<div class="b" style="left:35px;top:427px;width:1353px;height:1px;background:#dadce0"></div>
<div class="b" style="left:35px;top:456px;width:1353px;height:1px;background:#dadce0"></div>
<div class="b" style="left:291px;top:456px;width:1px;height:364px;background:#dadce0"></div>
<div class="b" style="left:35px;top:576px;width:1353px;height:1px;background:#dadce0"></div>
<div class="b" style="left:35px;top:577px;width:1353px;height:26px;background:#f8f9fa"></div>
<div class="b" style="left:35px;top:603px;width:1353px;height:1px;background:#dfe1e5"></div>
<div class="b" style="left:35px;top:631px;width:1353px;height:26px;background:#f8f9fa"></div>
<div class="b" style="left:35px;top:630px;width:1353px;height:1px;background:#dfe1e5"></div>
<div class="b" style="left:35px;top:657px;width:1353px;height:1px;background:#dfe1e5"></div>
<div class="b" style="left:35px;top:686px;width:1353px;height:26px;background:#f8f9fa"></div>
<div class="b" style="left:35px;top:685px;width:1353px;height:1px;background:#dfe1e5"></div>
<div class="b" style="left:35px;top:712px;width:1353px;height:1px;background:#dfe1e5"></div>
<div class="b" style="left:35px;top:740px;width:1353px;height:26px;background:#f8f9fa"></div>
<div class="b" style="left:35px;top:739px;width:1353px;height:1px;background:#dfe1e5"></div>
<div class="b" style="left:35px;top:766px;width:1353px;height:1px;background:#dfe1e5"></div>
<div class="b" style="left:35px;top:794px;width:1353px;height:26px;background:#f8f9fa"></div>
<div class="b" style="left:35px;top:793px;width:1353px;height:1px;background:#dfe1e5"></div>
<div class="b" style="left:291px;top:456px;width:1px;height:364px;background:#dadce0"></div>
<svg class="b" style="left:38px;top:434px" width="17" height="17"><circle cx="6.6" cy="6.6" r="4.2" fill="none" stroke="#5f6368" stroke-width="1.6"/><path d="M9.6,9.6 L14,14" stroke="#5f6368" stroke-width="1.8"/></svg>
<svg class="b" style="left:1309px;top:439px" width="10" height="6"><path d="M1.6,1 L8,1 L4.8,4.3Z" fill="#5f6368"/></svg>
<svg class="b" style="left:245px;top:472px" width="10" height="6"><path d="M1.6,1 L7.4,1 L4.5,3.9Z" fill="#5f6368"/></svg>
<div class="b" style="left:265.8px;top:474.1px;width:9px;height:1.5px;background:#4158c8"></div>
<div class="b" style="left:269.55px;top:470.3px;width:1.5px;height:9px;background:#4158c8"></div>
<svg class="b" style="left:302px;top:468px" width="11" height="12"><path d="M5.5,2 L5.5,10 M2.6,7.2 L5.5,10.1 L8.4,7.2" fill="none" stroke="#45484c" stroke-width="1.4"/></svg>
<svg class="b" style="left:965px;top:485.5px;" width="10" height="6"><path d="M1.2,1 L6.6,1 L3.9,3.8Z" fill="#5f6368"/></svg>
<svg class="b" style="left:1127.4px;top:485px;" width="10" height="6"><path d="M1.2,1 L6.6,1 L3.9,3.8Z" fill="#5f6368"/></svg>
<svg class="b" style="left:1372.8px;top:514.2px;" width="10" height="6"><path d="M1.2,1 L6.6,1 L3.9,3.8Z" fill="#5f6368"/></svg>
<div class="b" style="left:354px;top:480px;width:19px;height:0;border-top:1px dashed #9aa0a6"></div>
<div class="b" style="left:316.6px;top:495px;width:56.39999999999998px;height:0;border-top:1px dashed #9aa0a6"></div>
<div class="b" style="left:456px;top:480px;width:32.80000000000001px;height:0;border-top:1px dashed #9aa0a6"></div>
<div class="b" style="left:409.7px;top:495px;width:79.10000000000002px;height:0;border-top:1px dashed #9aa0a6"></div>
<div class="b" style="left:532.8px;top:480px;width:63.200000000000045px;height:0;border-top:1px dashed #9aa0a6"></div>
<div class="b" style="left:525.6px;top:495px;width:70.39999999999998px;height:0;border-top:1px dashed #9aa0a6"></div>
<div class="b" style="left:679.7px;top:480px;width:32.19999999999993px;height:0;border-top:1px dashed #9aa0a6"></div>
<div class="b" style="left:632.8px;top:495px;width:79.10000000000002px;height:0;border-top:1px dashed #9aa0a6"></div>
<div class="b" style="left:641.2px;top:509px;width:70.69999999999993px;height:0;border-top:1px dashed #9aa0a6"></div>
<div class="b" style="left:766.6px;top:480px;width:52.799999999999955px;height:0;border-top:1px dashed #9aa0a6"></div>
<div class="b" style="left:748.4px;top:495px;width:71.0px;height:0;border-top:1px dashed #9aa0a6"></div>
<div class="b" style="left:884.4px;top:480px;width:68.10000000000002px;height:0;border-top:1px dashed #9aa0a6"></div>
<div class="b" style="left:1035px;top:479px;width:90.70000000000005px;height:0;border-top:1px dashed #9aa0a6"></div>
<div class="b" style="left:1193.8px;top:480px;width:32.200000000000045px;height:0;border-top:1px dashed #9aa0a6"></div>
<div class="b" style="left:1179.5px;top:494px;width:46.5px;height:0;border-top:1px dashed #9aa0a6"></div>
<div class="b" style="left:1269px;top:480px;width:119px;height:0;border-top:1px dashed #9aa0a6"></div>
<div class="b" style="left:1296.7px;top:494px;width:91.29999999999995px;height:0;border-top:1px dashed #9aa0a6"></div>
<div class="b" style="left:1312.5px;top:509px;width:75.5px;height:0;border-top:1px dashed #9aa0a6"></div>
<div class="t" style="top:21.00px;font-size:9px;color:#505357;left:36.25px;--tw:88.75;transform:scaleX(1.0258);transform-origin:left;-webkit-text-stroke:0.2px #505357;">Wszyscy użytkownicy</div>
<div class="t" style="top:21.00px;font-size:9px;color:#3c4043;left:150.80px;--tw:69.2;transform:scaleX(0.9537);transform-origin:left;-webkit-text-stroke:0.25px #3c4043;">Dodaj porównanie</div>
<div class="t" style="top:21.00px;font-size:7.8px;color:#3c4043;left:1348.00px;letter-spacing:0.72px;-webkit-text-stroke:0.3px #3c4043;">ostatnich 12 miesięcy</div>
<div class="t" style="top:20.00px;font-size:10.3px;color:#4a4d51;left:1446.50px;--tw:110.5;transform:scaleX(0.9847);transform-origin:left;-webkit-text-stroke:0.2px #4a4d51;">13 sie 2023–13 sie 2024</div>
<div class="t" style="top:55.00px;font-size:16px;color:#35383c;left:11.60px;--tw:717;transform:scaleX(1.0193);transform-origin:left;-webkit-text-stroke:0.05px #35383c;">Pozyskiwanie użytkowników: Nowy użytkownik – główna grupa kanałów (Domyślna grupa kanałów)</div>
<div class="t" style="top:83.00px;font-size:8.5px;color:#3c4043;left:21.90px;--tw:36.85;transform:scaleX(1.0263);transform-origin:left;-webkit-text-stroke:0.25px #3c4043;">Dodaj filtr</div>
<div class="t" style="top:136.00px;font-size:9.5px;color:#3c4043;left:36.00px;--tw:554.7;transform:scaleX(1.1382);transform-origin:left;-webkit-text-stroke:0.2px #3c4043;">Nowi użytkownicy według wymiaru „Nowy użytkownik – główna grupa kanałów (Domyślna grupa kanałów)” w czasie</div>
<div class="t" style="top:136.00px;font-size:11px;color:#3c4043;left:671.75px;--tw:25.15;transform:scaleX(0.8942);transform-origin:left;-webkit-text-stroke:0.2px #3c4043;">Dzień</div>
<div class="t" style="top:166.00px;font-size:8.5px;color:#5f6368;right:854.00px;-webkit-text-stroke:0.2px #5f6368;">300</div>
<div class="t" style="top:233.00px;font-size:8.5px;color:#5f6368;right:854.00px;-webkit-text-stroke:0.2px #5f6368;">200</div>
<div class="t" style="top:300.00px;font-size:8.5px;color:#5f6368;right:854.00px;-webkit-text-stroke:0.2px #5f6368;">100</div>
<div class="t" style="top:355.00px;font-size:8.5px;color:#5f6368;right:854.00px;-webkit-text-stroke:0.2px #5f6368;">0</div>
<div class="t c" style="top:370.00px;font-size:8px;color:#5f6368;left:79.30px;transform:translateX(-50%);-webkit-text-stroke:0.2px #5f6368;">01</div>
<div class="t c" style="top:379.00px;font-size:8px;color:#5f6368;left:79.30px;transform:translateX(-50%);-webkit-text-stroke:0.2px #5f6368;">wrz</div>
<div class="t c" style="top:370.00px;font-size:8px;color:#5f6368;left:130.00px;transform:translateX(-50%);-webkit-text-stroke:0.2px #5f6368;">01</div>
<div class="t c" style="top:379.00px;font-size:8px;color:#5f6368;left:130.00px;transform:translateX(-50%);-webkit-text-stroke:0.2px #5f6368;">paź</div>
<div class="t c" style="top:370.00px;font-size:8px;color:#5f6368;left:187.60px;transform:translateX(-50%);-webkit-text-stroke:0.2px #5f6368;">01</div>
<div class="t c" style="top:379.00px;font-size:8px;color:#5f6368;left:187.60px;transform:translateX(-50%);-webkit-text-stroke:0.2px #5f6368;">lis</div>
<div class="t c" style="top:370.00px;font-size:8px;color:#5f6368;left:244.00px;transform:translateX(-50%);-webkit-text-stroke:0.2px #5f6368;">01</div>
<div class="t c" style="top:379.00px;font-size:8px;color:#5f6368;left:244.00px;transform:translateX(-50%);-webkit-text-stroke:0.2px #5f6368;">gru</div>
<div class="t c" style="top:370.00px;font-size:8px;color:#5f6368;left:301.40px;transform:translateX(-50%);-webkit-text-stroke:0.2px #5f6368;">01</div>
<div class="t c" style="top:379.00px;font-size:8px;color:#5f6368;left:301.40px;transform:translateX(-50%);-webkit-text-stroke:0.2px #5f6368;">sty</div>
<div class="t c" style="top:370.00px;font-size:8px;color:#5f6368;left:359.40px;transform:translateX(-50%);-webkit-text-stroke:0.2px #5f6368;">01</div>
<div class="t c" style="top:379.00px;font-size:8px;color:#5f6368;left:359.40px;transform:translateX(-50%);-webkit-text-stroke:0.2px #5f6368;">lut</div>
<div class="t c" style="top:370.00px;font-size:8px;color:#5f6368;left:413.50px;transform:translateX(-50%);-webkit-text-stroke:0.2px #5f6368;">01</div>
<div class="t c" style="top:379.00px;font-size:8px;color:#5f6368;left:413.50px;transform:translateX(-50%);-webkit-text-stroke:0.2px #5f6368;">mar</div>
<div class="t c" style="top:370.00px;font-size:8px;color:#5f6368;left:471.40px;transform:translateX(-50%);-webkit-text-stroke:0.2px #5f6368;">01</div>
<div class="t c" style="top:379.00px;font-size:8px;color:#5f6368;left:471.40px;transform:translateX(-50%);-webkit-text-stroke:0.2px #5f6368;">kwi</div>
<div class="t c" style="top:370.00px;font-size:8px;color:#5f6368;left:527.60px;transform:translateX(-50%);-webkit-text-stroke:0.2px #5f6368;">01</div>
<div class="t c" style="top:379.00px;font-size:8px;color:#5f6368;left:527.60px;transform:translateX(-50%);-webkit-text-stroke:0.2px #5f6368;">maj</div>
<div class="t c" style="top:370.00px;font-size:8px;color:#5f6368;left:585.00px;transform:translateX(-50%);-webkit-text-stroke:0.2px #5f6368;">01</div>
<div class="t c" style="top:379.00px;font-size:8px;color:#5f6368;left:585.00px;transform:translateX(-50%);-webkit-text-stroke:0.2px #5f6368;">cze</div>
<div class="t c" style="top:370.00px;font-size:8px;color:#5f6368;left:640.90px;transform:translateX(-50%);-webkit-text-stroke:0.2px #5f6368;">01</div>
<div class="t c" style="top:379.00px;font-size:8px;color:#5f6368;left:640.90px;transform:translateX(-50%);-webkit-text-stroke:0.2px #5f6368;">lip</div>
<div class="t c" style="top:370.00px;font-size:8px;color:#5f6368;left:693.60px;transform:translateX(-50%);-webkit-text-stroke:0.2px #5f6368;">01</div>
<div class="t c" style="top:379.00px;font-size:8px;color:#5f6368;left:693.60px;transform:translateX(-50%);-webkit-text-stroke:0.2px #5f6368;">sie</div>
<div class="t" style="top:397.00px;font-size:8.5px;color:#5f6368;left:49.70px;--tw:58.3;transform:scaleX(0.9871);transform-origin:left;-webkit-text-stroke:0.2px #5f6368;">Organic Search</div>
<div class="t" style="top:397.00px;font-size:8.5px;color:#5f6368;left:126.50px;--tw:46.5;transform:scaleX(1.0040);transform-origin:left;-webkit-text-stroke:0.2px #5f6368;">Paid Search</div>
<div class="t" style="top:397.00px;font-size:8.5px;color:#5f6368;left:191.50px;--tw:22.5;transform:scaleX(1.0134);transform-origin:left;-webkit-text-stroke:0.2px #5f6368;">Direct</div>
<div class="t" style="top:397.00px;font-size:8.5px;color:#5f6368;left:232.00px;--tw:56;transform:scaleX(1.0130);transform-origin:left;-webkit-text-stroke:0.2px #5f6368;">Organic Social</div>
<div class="t" style="top:397.00px;font-size:8.5px;color:#5f6368;left:306.00px;--tw:56;transform:scaleX(1.0220);transform-origin:left;-webkit-text-stroke:0.2px #5f6368;">Cross-network</div>
<div class="dot" style="left:38.9px;top:397.8px;background:#1d6f9f"></div><div class="dot" style="left:115.8px;top:397.8px;background:#3b7ddb"></div><div class="dot" style="left:180.7px;top:397.8px;background:#4a4fdc"></div><div class="dot" style="left:221.2px;top:397.8px;background:#7b3fd9"></div><div class="dot" style="left:295.3px;top:397.8px;background:#5b1093"></div>
<div class="t" style="top:136.00px;font-size:9.5px;color:#3c4043;left:791.60px;--tw:513.6;transform:scaleX(1.1457);transform-origin:left;-webkit-text-stroke:0.2px #3c4043;">Nowi użytkownicy według wymiaru „Nowy użytkownik – główna grupa kanałów (Domyślna grupa kanałów)”</div>
<div class="t" style="top:191.00px;font-size:8.5px;color:#3c4043;left:791.60px;--tw:64.8;transform:scaleX(1.0971);transform-origin:left;-webkit-text-stroke:0.2px #3c4043;">Organic Search</div>
<div class="t" style="top:227.00px;font-size:8.5px;color:#3c4043;left:791.60px;--tw:50.4;transform:scaleX(1.0883);transform-origin:left;-webkit-text-stroke:0.2px #3c4043;">Paid Search</div>
<div class="t" style="top:262.00px;font-size:8.5px;color:#3c4043;left:791.60px;--tw:25.2;transform:scaleX(1.1350);transform-origin:left;-webkit-text-stroke:0.2px #3c4043;">Direct</div>
<div class="t" style="top:297.00px;font-size:8.5px;color:#3c4043;left:791.60px;--tw:61.2;transform:scaleX(1.1071);transform-origin:left;-webkit-text-stroke:0.2px #3c4043;">Organic Social</div>
<div class="t" style="top:333.00px;font-size:8.5px;color:#3c4043;left:791.60px;--tw:62.0;transform:scaleX(1.1315);transform-origin:left;-webkit-text-stroke:0.2px #3c4043;">Cross-network</div>
<div class="t c" style="top:374.00px;font-size:8px;color:#5f6368;left:864.50px;transform:translateX(-50%);-webkit-text-stroke:0.2px #5f6368;">0</div>
<div class="t c" style="top:374.00px;font-size:8px;color:#5f6368;left:1035.40px;transform:translateX(-50%);-webkit-text-stroke:0.2px #5f6368;">10 tys.</div>
<div class="t c" style="top:374.00px;font-size:8px;color:#5f6368;left:1206.00px;transform:translateX(-50%);-webkit-text-stroke:0.2px #5f6368;">20 tys.</div>
<div class="t c" style="top:374.00px;font-size:8px;color:#5f6368;left:1376.00px;transform:translateX(-50%);-webkit-text-stroke:0.2px #5f6368;">30 tys</div>
<div class="t" style="top:437.00px;font-size:9.5px;color:#5f6368;left:61.25px;--tw:37.5;transform:scaleX(0.9864);transform-origin:left;-webkit-text-stroke:0.2px #5f6368;">Szukaj…</div>
<div class="t" style="top:438.00px;font-size:8.5px;color:#5f6368;left:1162.80px;--tw:108.9;transform:scaleX(1.1411);transform-origin:left;-webkit-text-stroke:0.2px #5f6368;">Liczba wierszy na stronę:</div>
<div class="t" style="top:437.00px;font-size:10px;color:#3c4043;left:1290.50px;--tw:10.7;transform:scaleX(0.9618);transform-origin:left;-webkit-text-stroke:0.2px #3c4043;">10</div>
<div class="t" style="top:438.00px;font-size:8.5px;color:#5f6368;left:1349.60px;--tw:31.4;transform:scaleX(1.1258);transform-origin:left;-webkit-text-stroke:0.2px #5f6368;">1–9 z 9</div>
<div class="t" style="top:470.00px;font-size:10px;color:#5f6368;left:76.90px;--tw:159.35;transform:scaleX(1.0275);transform-origin:left;-webkit-text-stroke:0.2px #5f6368;">Nowy użytkownik…grupa kanałów)</div>
<div class="t" style="top:468.00px;font-size:10px;color:#4f5357;right:1227.00px;-webkit-text-stroke:0.2px #4f5357;">Nowi</div>
<div class="t" style="top:483.00px;font-size:10px;color:#4f5357;right:1227.00px;--tw:56.1;transform:scaleX(1.0407);transform-origin:right;-webkit-text-stroke:0.2px #4f5357;">użytkownicy</div>
<div class="t" style="top:468.00px;font-size:10px;color:#4f5357;right:1111.20px;-webkit-text-stroke:0.2px #4f5357;">Sesje z</div>
<div class="t" style="top:483.00px;font-size:10px;color:#4f5357;right:1111.20px;--tw:79.1;transform:scaleX(1.0163);transform-origin:right;-webkit-text-stroke:0.2px #4f5357;">zaangażowaniem</div>
<div class="t" style="top:468.00px;font-size:10px;color:#4f5357;right:1004.00px;--tw:63.2;transform:scaleX(1.0337);transform-origin:right;-webkit-text-stroke:0.2px #4f5357;">Współczynnik</div>
<div class="t" style="top:483.00px;font-size:10px;color:#4f5357;right:1004.00px;--tw:70.4;transform:scaleX(1.0129);transform-origin:right;-webkit-text-stroke:0.2px #4f5357;">zaangażowania</div>
<div class="t" style="top:468.00px;font-size:10px;color:#4f5357;right:888.10px;-webkit-text-stroke:0.2px #4f5357;">Sesje z</div>
<div class="t" style="top:483.00px;font-size:10px;color:#4f5357;right:888.10px;--tw:79.1;transform:scaleX(1.0163);transform-origin:right;-webkit-text-stroke:0.2px #4f5357;">zaangażowaniem</div>
<div class="t" style="top:498.00px;font-size:10px;color:#4f5357;right:888.10px;--tw:70.65;transform:scaleX(1.0333);transform-origin:right;-webkit-text-stroke:0.2px #4f5357;">na użytkownika</div>
<div class="t" style="top:468.00px;font-size:10px;color:#4f5357;right:780.60px;--tw:52.8;transform:scaleX(1.0105);transform-origin:right;-webkit-text-stroke:0.2px #4f5357;">Średni czas</div>
<div class="t" style="top:483.00px;font-size:10px;color:#4f5357;right:780.60px;--tw:71;transform:scaleX(1.0216);transform-origin:right;-webkit-text-stroke:0.2px #4f5357;">zaangażowania</div>
<div class="t" style="top:468.00px;font-size:10px;color:#4f5357;right:647.50px;--tw:68.1;transform:scaleX(1.0124);transform-origin:right;-webkit-text-stroke:0.2px #4f5357;">Liczba zdarzeń</div>
<div class="t" style="top:484.00px;font-size:10px;color:#5f6368;left:861.90px;--tw:94.35;transform:scaleX(1.0352);transform-origin:left;-webkit-text-stroke:0.2px #5f6368;">Wszystkie zdarzenia</div>
<div class="t" style="top:468.00px;font-size:10px;color:#4f5357;right:474.30px;--tw:90.7;transform:scaleX(1.0198);transform-origin:right;-webkit-text-stroke:0.2px #4f5357;">Kluczowe zdarzenia</div>
<div class="t" style="top:483.00px;font-size:10px;color:#5f6368;left:1023.80px;--tw:94.1;transform:scaleX(1.0325);transform-origin:left;-webkit-text-stroke:0.2px #5f6368;">Wszystkie zdarzenia</div>
<div class="t" style="top:468.00px;font-size:10px;color:#4f5357;right:374.00px;-webkit-text-stroke:0.2px #4f5357;">Łączne</div>
<div class="t" style="top:483.00px;font-size:10px;color:#4f5357;right:374.00px;--tw:46.5;transform:scaleX(1.0202);transform-origin:right;-webkit-text-stroke:0.2px #4f5357;">przychody</div>
<div class="t" style="top:468.00px;font-size:10px;color:#4f5357;right:212.00px;--tw:119;transform:scaleX(1.0344);transform-origin:right;-webkit-text-stroke:0.2px #4f5357;">Współczynnik kluczowych</div>
<div class="t" style="top:483.00px;font-size:10px;color:#4f5357;right:212.00px;--tw:91.3;transform:scaleX(1.0139);transform-origin:right;-webkit-text-stroke:0.2px #4f5357;">zdarzeń związanych</div>
<div class="t" style="top:497.00px;font-size:10px;color:#4f5357;right:212.00px;--tw:75.5;transform:scaleX(1.0369);transform-origin:right;-webkit-text-stroke:0.2px #4f5357;">z użytkownikiem</div>
<div class="t" style="top:513.00px;font-size:10px;color:#5f6368;left:1269.00px;--tw:93.5;transform:scaleX(1.0259);transform-origin:left;-webkit-text-stroke:0.2px #5f6368;">Wszystkie zdarzenia</div>
<div class="t" style="top:544.00px;font-size:10.2px;color:#3c4043;right:1227.50px;--tw:32.8;transform:scaleX(1.0522);transform-origin:right;-webkit-text-stroke:0.18px #3c4043;">46 054</div>
<div class="t" style="top:561.00px;font-size:9px;color:#5f6368;right:1227.50px;--tw:53;transform:scaleX(0.9994);transform-origin:right;-webkit-text-stroke:0.2px #5f6368;">100% całości</div>
<div class="t" style="top:544.00px;font-size:10.2px;color:#3c4043;right:1111.20px;--tw:32.75;transform:scaleX(1.0506);transform-origin:right;-webkit-text-stroke:0.18px #3c4043;">40 679</div>
<div class="t" style="top:561.00px;font-size:9px;color:#5f6368;right:1111.20px;--tw:53;transform:scaleX(0.9994);transform-origin:right;-webkit-text-stroke:0.2px #5f6368;">100% całości</div>
<div class="t" style="top:544.00px;font-size:10.2px;color:#3c4043;right:1004.00px;--tw:36.6;transform:scaleX(1.0590);transform-origin:right;-webkit-text-stroke:0.18px #3c4043;">65,08%</div>
<div class="t" style="top:561.00px;font-size:9px;color:#5f6368;right:1004.00px;--tw:24.75;transform:scaleX(0.9334);transform-origin:right;-webkit-text-stroke:0.2px #5f6368;">Śr. 0%</div>
<div class="t" style="top:544.00px;font-size:10.2px;color:#3c4043;right:888.10px;--tw:21.3;transform:scaleX(1.0742);transform-origin:right;-webkit-text-stroke:0.18px #3c4043;">0,88</div>
<div class="t" style="top:561.00px;font-size:9px;color:#5f6368;right:888.10px;--tw:24.75;transform:scaleX(0.9334);transform-origin:right;-webkit-text-stroke:0.2px #5f6368;">Śr. 0%</div>
<div class="t" style="top:544.00px;font-size:10.2px;color:#3c4043;right:780.60px;--tw:46.9;transform:scaleX(0.9979);transform-origin:right;-webkit-text-stroke:0.18px #3c4043;">1 min 39 s</div>
<div class="t" style="top:561.00px;font-size:9px;color:#5f6368;right:780.60px;--tw:24.75;transform:scaleX(0.9334);transform-origin:right;-webkit-text-stroke:0.2px #5f6368;">Śr. 0%</div>
<div class="t" style="top:544.00px;font-size:10.2px;color:#3c4043;right:619.00px;--tw:37.6;transform:scaleX(1.0210);transform-origin:right;-webkit-text-stroke:0.18px #3c4043;">470 923</div>
<div class="t" style="top:561.00px;font-size:9px;color:#5f6368;right:619.00px;--tw:52.6;transform:scaleX(0.9919);transform-origin:right;-webkit-text-stroke:0.2px #5f6368;">100% całości</div>
<div class="t" style="top:544.00px;font-size:10.2px;color:#3c4043;right:457.20px;--tw:22.8;transform:scaleX(1.1499);transform-origin:right;-webkit-text-stroke:0.18px #3c4043;">0,00</div>
<div class="t" style="top:544.00px;font-size:10.2px;color:#3c4043;right:374.00px;--tw:34.2;transform:scaleX(1.1394);transform-origin:right;-webkit-text-stroke:0.18px #3c4043;">0,00 zł</div>
<div class="t" style="top:544.00px;font-size:10.2px;color:#3c4043;right:212.20px;--tw:14.8;transform:scaleX(1.0045);transform-origin:right;-webkit-text-stroke:0.18px #3c4043;">0%</div>
<div class="t c" style="top:586.00px;font-size:10px;color:#3c4043;left:49.60px;transform:translateX(-50%);-webkit-text-stroke:0.2px #3c4043;">1</div>
<div class="t" style="top:585.00px;font-size:10.6px;color:#202124;left:76.00px;-webkit-text-stroke:0.15px #202124;">Organic Search</div>
<div class="t" style="top:586.00px;font-size:10.4px;color:#3c4043;right:1227.20px;-webkit-text-stroke:0.15px #3c4043;">26 430</div>
<div class="t" style="top:586.00px;font-size:10.4px;color:#3c4043;right:1110.90px;-webkit-text-stroke:0.15px #3c4043;">21 248</div>
<div class="t" style="top:586.00px;font-size:10.4px;color:#3c4043;right:1003.70px;-webkit-text-stroke:0.15px #3c4043;">61,7%</div>
<div class="t" style="top:586.00px;font-size:10.4px;color:#3c4043;right:887.80px;-webkit-text-stroke:0.15px #3c4043;">0,80</div>
<div class="t" style="top:586.00px;font-size:10.4px;color:#3c4043;right:780.30px;-webkit-text-stroke:0.15px #3c4043;">1 min 23 s</div>
<div class="t" style="top:586.00px;font-size:10.4px;color:#3c4043;right:618.70px;-webkit-text-stroke:0.15px #3c4043;">194 830</div>
<div class="t" style="top:586.00px;font-size:10.4px;color:#3c4043;right:456.90px;-webkit-text-stroke:0.15px #3c4043;">0,00</div>
<div class="t" style="top:586.00px;font-size:10.4px;color:#3c4043;right:373.70px;-webkit-text-stroke:0.15px #3c4043;">0,00 zł</div>
<div class="t" style="top:586.00px;font-size:10.4px;color:#3c4043;right:211.90px;-webkit-text-stroke:0.15px #3c4043;">0%</div>
<div class="t c" style="top:613.00px;font-size:10px;color:#3c4043;left:49.60px;transform:translateX(-50%);-webkit-text-stroke:0.2px #3c4043;">2</div>
<div class="t" style="top:612.00px;font-size:10.6px;color:#202124;left:76.00px;-webkit-text-stroke:0.15px #202124;">Paid Search</div>
<div class="t" style="top:613.00px;font-size:10.4px;color:#3c4043;right:1227.20px;-webkit-text-stroke:0.15px #3c4043;">12 076</div>
<div class="t" style="top:613.00px;font-size:10.4px;color:#3c4043;right:1110.90px;-webkit-text-stroke:0.15px #3c4043;">13 643</div>
<div class="t" style="top:613.00px;font-size:10.4px;color:#3c4043;right:1003.70px;-webkit-text-stroke:0.15px #3c4043;">78,8%</div>
<div class="t" style="top:613.00px;font-size:10.4px;color:#3c4043;right:887.80px;-webkit-text-stroke:0.15px #3c4043;">1,13</div>
<div class="t" style="top:613.00px;font-size:10.4px;color:#3c4043;right:780.30px;-webkit-text-stroke:0.15px #3c4043;">2 min 25 s</div>
<div class="t" style="top:613.00px;font-size:10.4px;color:#3c4043;right:618.70px;-webkit-text-stroke:0.15px #3c4043;">185 883</div>
<div class="t" style="top:613.00px;font-size:10.4px;color:#3c4043;right:456.90px;-webkit-text-stroke:0.15px #3c4043;">0,00</div>
<div class="t" style="top:613.00px;font-size:10.4px;color:#3c4043;right:373.70px;-webkit-text-stroke:0.15px #3c4043;">0,00 zł</div>
<div class="t" style="top:613.00px;font-size:10.4px;color:#3c4043;right:211.90px;-webkit-text-stroke:0.15px #3c4043;">0%</div>
<div class="t c" style="top:640.00px;font-size:10px;color:#3c4043;left:49.60px;transform:translateX(-50%);-webkit-text-stroke:0.2px #3c4043;">3</div>
<div class="t" style="top:639.00px;font-size:10.6px;color:#202124;left:76.00px;-webkit-text-stroke:0.15px #202124;">Direct</div>
<div class="t" style="top:640.00px;font-size:10.4px;color:#3c4043;right:1227.20px;-webkit-text-stroke:0.15px #3c4043;">2 855</div>
<div class="t" style="top:640.00px;font-size:10.4px;color:#3c4043;right:1110.90px;-webkit-text-stroke:0.15px #3c4043;">3 216</div>
<div class="t" style="top:640.00px;font-size:10.4px;color:#3c4043;right:1003.70px;-webkit-text-stroke:0.15px #3c4043;">50,94%</div>
<div class="t" style="top:640.00px;font-size:10.4px;color:#3c4043;right:887.80px;-webkit-text-stroke:0.15px #3c4043;">1,06</div>
<div class="t" style="top:640.00px;font-size:10.4px;color:#3c4043;right:780.30px;-webkit-text-stroke:0.15px #3c4043;">1 min 57 s</div>
<div class="t" style="top:640.00px;font-size:10.4px;color:#3c4043;right:618.70px;-webkit-text-stroke:0.15px #3c4043;">50 626</div>
<div class="t" style="top:640.00px;font-size:10.4px;color:#3c4043;right:456.90px;-webkit-text-stroke:0.15px #3c4043;">0,00</div>
<div class="t" style="top:640.00px;font-size:10.4px;color:#3c4043;right:373.70px;-webkit-text-stroke:0.15px #3c4043;">0,00 zł</div>
<div class="t" style="top:640.00px;font-size:10.4px;color:#3c4043;right:211.90px;-webkit-text-stroke:0.15px #3c4043;">0%</div>
<div class="t c" style="top:667.00px;font-size:10px;color:#3c4043;left:49.60px;transform:translateX(-50%);-webkit-text-stroke:0.2px #3c4043;">4</div>
<div class="t" style="top:666.00px;font-size:10.6px;color:#202124;left:76.00px;-webkit-text-stroke:0.15px #202124;">Organic Social</div>
<div class="t" style="top:667.00px;font-size:10.4px;color:#3c4043;right:1227.20px;-webkit-text-stroke:0.15px #3c4043;">2 523</div>
<div class="t" style="top:667.00px;font-size:10.4px;color:#3c4043;right:1110.90px;-webkit-text-stroke:0.15px #3c4043;">1 495</div>
<div class="t" style="top:667.00px;font-size:10.4px;color:#3c4043;right:1003.70px;-webkit-text-stroke:0.15px #3c4043;">44,15%</div>
<div class="t" style="top:667.00px;font-size:10.4px;color:#3c4043;right:887.80px;-webkit-text-stroke:0.15px #3c4043;">0,57</div>
<div class="t" style="top:667.00px;font-size:10.4px;color:#3c4043;right:780.30px;-webkit-text-stroke:0.15px #3c4043;">1 min 00 s</div>
<div class="t" style="top:667.00px;font-size:10.4px;color:#3c4043;right:618.70px;-webkit-text-stroke:0.15px #3c4043;">24 518</div>
<div class="t" style="top:667.00px;font-size:10.4px;color:#3c4043;right:456.90px;-webkit-text-stroke:0.15px #3c4043;">0,00</div>
<div class="t" style="top:667.00px;font-size:10.4px;color:#3c4043;right:373.70px;-webkit-text-stroke:0.15px #3c4043;">0,00 zł</div>
<div class="t" style="top:667.00px;font-size:10.4px;color:#3c4043;right:211.90px;-webkit-text-stroke:0.15px #3c4043;">0%</div>
<div class="t c" style="top:694.00px;font-size:10px;color:#3c4043;left:49.60px;transform:translateX(-50%);-webkit-text-stroke:0.2px #3c4043;">5</div>
<div class="t" style="top:693.00px;font-size:10.6px;color:#202124;left:76.00px;-webkit-text-stroke:0.15px #202124;">Cross-network</div>
<div class="t" style="top:694.00px;font-size:10.4px;color:#3c4043;right:1227.20px;-webkit-text-stroke:0.15px #3c4043;">1 721</div>
<div class="t" style="top:694.00px;font-size:10.4px;color:#3c4043;right:1110.90px;-webkit-text-stroke:0.15px #3c4043;">1 340</div>
<div class="t" style="top:694.00px;font-size:10.4px;color:#3c4043;right:1003.70px;-webkit-text-stroke:0.15px #3c4043;">61,19%</div>
<div class="t" style="top:694.00px;font-size:10.4px;color:#3c4043;right:887.80px;-webkit-text-stroke:0.15px #3c4043;">0,77</div>
<div class="t" style="top:694.00px;font-size:10.4px;color:#3c4043;right:780.30px;-webkit-text-stroke:0.15px #3c4043;">46 s</div>
<div class="t" style="top:694.00px;font-size:10.4px;color:#3c4043;right:618.70px;-webkit-text-stroke:0.15px #3c4043;">11 362</div>
<div class="t" style="top:694.00px;font-size:10.4px;color:#3c4043;right:456.90px;-webkit-text-stroke:0.15px #3c4043;">0,00</div>
<div class="t" style="top:694.00px;font-size:10.4px;color:#3c4043;right:373.70px;-webkit-text-stroke:0.15px #3c4043;">0,00 zł</div>
<div class="t" style="top:694.00px;font-size:10.4px;color:#3c4043;right:211.90px;-webkit-text-stroke:0.15px #3c4043;">0%</div>
<div class="t c" style="top:721.00px;font-size:10px;color:#3c4043;left:49.60px;transform:translateX(-50%);-webkit-text-stroke:0.2px #3c4043;">6</div>
<div class="t" style="top:720.00px;font-size:10.6px;color:#202124;left:76.00px;-webkit-text-stroke:0.15px #202124;">Organic Shopping</div>
<div class="t" style="top:721.00px;font-size:10.4px;color:#3c4043;right:1227.20px;-webkit-text-stroke:0.15px #3c4043;">307</div>
<div class="t" style="top:721.00px;font-size:10.4px;color:#3c4043;right:1110.90px;-webkit-text-stroke:0.15px #3c4043;">236</div>
<div class="t" style="top:721.00px;font-size:10.4px;color:#3c4043;right:1003.70px;-webkit-text-stroke:0.15px #3c4043;">63,96%</div>
<div class="t" style="top:721.00px;font-size:10.4px;color:#3c4043;right:887.80px;-webkit-text-stroke:0.15px #3c4043;">0,77</div>
<div class="t" style="top:721.00px;font-size:10.4px;color:#3c4043;right:780.30px;-webkit-text-stroke:0.15px #3c4043;">55 s</div>
<div class="t" style="top:721.00px;font-size:10.4px;color:#3c4043;right:618.70px;-webkit-text-stroke:0.15px #3c4043;">2 189</div>
<div class="t" style="top:721.00px;font-size:10.4px;color:#3c4043;right:456.90px;-webkit-text-stroke:0.15px #3c4043;">0,00</div>
<div class="t" style="top:721.00px;font-size:10.4px;color:#3c4043;right:373.70px;-webkit-text-stroke:0.15px #3c4043;">0,00 zł</div>
<div class="t" style="top:721.00px;font-size:10.4px;color:#3c4043;right:211.90px;-webkit-text-stroke:0.15px #3c4043;">0%</div>
<div class="t c" style="top:748.00px;font-size:10px;color:#3c4043;left:49.60px;transform:translateX(-50%);-webkit-text-stroke:0.2px #3c4043;">7</div>
<div class="t" style="top:747.00px;font-size:10.6px;color:#202124;left:76.00px;-webkit-text-stroke:0.15px #202124;">Referral</div>
<div class="t" style="top:748.00px;font-size:10.4px;color:#3c4043;right:1227.20px;-webkit-text-stroke:0.15px #3c4043;">133</div>
<div class="t" style="top:748.00px;font-size:10.4px;color:#3c4043;right:1110.90px;-webkit-text-stroke:0.15px #3c4043;">103</div>
<div class="t" style="top:748.00px;font-size:10.4px;color:#3c4043;right:1003.70px;-webkit-text-stroke:0.15px #3c4043;">62,05%</div>
<div class="t" style="top:748.00px;font-size:10.4px;color:#3c4043;right:887.80px;-webkit-text-stroke:0.15px #3c4043;">0,78</div>
<div class="t" style="top:748.00px;font-size:10.4px;color:#3c4043;right:780.30px;-webkit-text-stroke:0.15px #3c4043;">1 min 16 s</div>
<div class="t" style="top:748.00px;font-size:10.4px;color:#3c4043;right:618.70px;-webkit-text-stroke:0.15px #3c4043;">1 289</div>
<div class="t" style="top:748.00px;font-size:10.4px;color:#3c4043;right:456.90px;-webkit-text-stroke:0.15px #3c4043;">0,00</div>
<div class="t" style="top:748.00px;font-size:10.4px;color:#3c4043;right:373.70px;-webkit-text-stroke:0.15px #3c4043;">0,00 zł</div>
<div class="t" style="top:748.00px;font-size:10.4px;color:#3c4043;right:211.90px;-webkit-text-stroke:0.15px #3c4043;">0%</div>
<div class="t c" style="top:776.00px;font-size:10px;color:#3c4043;left:49.60px;transform:translateX(-50%);-webkit-text-stroke:0.2px #3c4043;">8</div>
<div class="t" style="top:775.00px;font-size:10.6px;color:#202124;left:76.00px;-webkit-text-stroke:0.15px #202124;">Display</div>
<div class="t" style="top:776.00px;font-size:10.4px;color:#3c4043;right:1227.20px;-webkit-text-stroke:0.15px #3c4043;">9</div>
<div class="t" style="top:776.00px;font-size:10.4px;color:#3c4043;right:1110.90px;-webkit-text-stroke:0.15px #3c4043;">4</div>
<div class="t" style="top:776.00px;font-size:10.4px;color:#3c4043;right:1003.70px;-webkit-text-stroke:0.15px #3c4043;">40%</div>
<div class="t" style="top:776.00px;font-size:10.4px;color:#3c4043;right:887.80px;-webkit-text-stroke:0.15px #3c4043;">0,44</div>
<div class="t" style="top:776.00px;font-size:10.4px;color:#3c4043;right:780.30px;-webkit-text-stroke:0.15px #3c4043;">1 min 11 s</div>
<div class="t" style="top:776.00px;font-size:10.4px;color:#3c4043;right:618.70px;-webkit-text-stroke:0.15px #3c4043;">61</div>
<div class="t" style="top:776.00px;font-size:10.4px;color:#3c4043;right:456.90px;-webkit-text-stroke:0.15px #3c4043;">0,00</div>
<div class="t" style="top:776.00px;font-size:10.4px;color:#3c4043;right:373.70px;-webkit-text-stroke:0.15px #3c4043;">0,00 zł</div>
<div class="t" style="top:776.00px;font-size:10.4px;color:#3c4043;right:211.90px;-webkit-text-stroke:0.15px #3c4043;">0%</div>
<div class="t c" style="top:803.00px;font-size:10px;color:#3c4043;left:49.60px;transform:translateX(-50%);-webkit-text-stroke:0.2px #3c4043;">9</div>
<div class="t" style="top:802.00px;font-size:10.6px;color:#202124;left:76.00px;-webkit-text-stroke:0.15px #202124;">Unassigned</div>
<div class="t" style="top:803.00px;font-size:10.4px;color:#3c4043;right:1227.20px;-webkit-text-stroke:0.15px #3c4043;">0</div>
<div class="t" style="top:803.00px;font-size:10.4px;color:#3c4043;right:1110.90px;-webkit-text-stroke:0.15px #3c4043;">0</div>
<div class="t" style="top:803.00px;font-size:10.4px;color:#3c4043;right:1003.70px;-webkit-text-stroke:0.15px #3c4043;">0%</div>
<div class="t" style="top:803.00px;font-size:10.4px;color:#3c4043;right:887.80px;-webkit-text-stroke:0.15px #3c4043;">0,00</div>
<div class="t" style="top:803.00px;font-size:10.4px;color:#3c4043;right:780.30px;-webkit-text-stroke:0.15px #3c4043;">1 min 38 s</div>
<div class="t" style="top:803.00px;font-size:10.4px;color:#3c4043;right:618.70px;-webkit-text-stroke:0.15px #3c4043;">165</div>
<div class="t" style="top:803.00px;font-size:10.4px;color:#3c4043;right:456.90px;-webkit-text-stroke:0.15px #3c4043;">0,00</div>
<div class="t" style="top:803.00px;font-size:10.4px;color:#3c4043;right:373.70px;-webkit-text-stroke:0.15px #3c4043;">0,00 zł</div>
<div class="t" style="top:803.00px;font-size:10.4px;color:#3c4043;right:211.90px;-webkit-text-stroke:0.15px #3c4043;">0%</div>
</body></html>
